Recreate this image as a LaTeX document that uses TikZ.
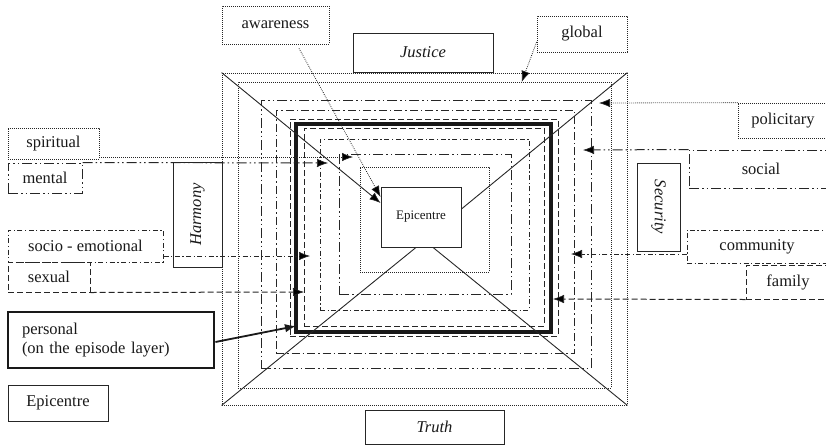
\documentclass[tikz,border=0pt]{standalone}
\usepackage{fontspec}
\setmainfont{Liberation Serif}
\usetikzlibrary{arrows.meta}

\newcommand\lblfont{\fontsize{16.5}{19}\selectfont}
\newcommand\corefont{\fontsize{13}{15}\selectfont}

\tikzset{
  dotln/.style={dash pattern=on 0.8pt off 1.2pt, line width=0.8pt},
  dashln/.style={dash pattern=on 6pt off 3pt, line width=1pt},
  dashdotln/.style={dash pattern=on 8pt off 3pt on 1.5pt off 3pt, line width=1pt},
  shortdashdotln/.style={dash pattern=on 5pt off 2.5pt on 1.3pt off 2.5pt, line width=1pt},
  dashdotdotln/.style={dash pattern=on 10pt off 3pt on 1.5pt off 3pt on 1.5pt off 3pt, line width=1pt},
  thinln/.style={line width=0.9pt},
  layer/.style={draw=black!85, inner sep=0pt},
  lbl/.style={draw=black!85, inner sep=0pt, font=\lblfont, text=black!90},
  tip/.style={-{Latex[length=11pt,width=8.5pt,fill=black,line width=0.6pt]}, draw=black!85},
}

\begin{document}
\begin{tikzpicture}[x=1pt, y=-1pt]
\useasboundingbox (0,0) rectangle (826,445);
\clip (0,0) rectangle (826,445);

% concentric layers, outermost first
\node[layer, dotln, minimum width=405pt, minimum height=332pt] (L1) at (424.5,239) {};
\node[layer, dotln, minimum width=373pt, minimum height=306pt] (L2) at (424.5,235) {};
\node[layer, dashdotdotln, minimum width=330pt, minimum height=268pt] (L3) at (426,234) {};
\node[layer, dashdotln, minimum width=298pt, minimum height=243pt] (L4) at (425,231.5) {};
\node[layer, dashln, minimum width=268pt, minimum height=217pt] (L5) at (424,227.5) {};
\node[layer, line width=3.8pt, draw=black!90, minimum width=255pt, minimum height=208pt] (L6) at (423.5,228) {};
\node[layer, dashln, minimum width=240pt, minimum height=198pt] (L7) at (424,227) {};
\node[layer, shortdashdotln, minimum width=209pt, minimum height=171pt] (L8) at (424.5,224.5) {};
\node[layer, dashdotdotln, minimum width=172pt, minimum height=140pt] (L9) at (425,224) {};
\node[layer, dotln, minimum width=129pt, minimum height=105pt] (L10) at (424.5,219.5) {};

% the core
\node[layer, thinln, fill=white, font=\corefont, text=black!90, minimum width=80pt, minimum height=60pt] (epi) at (421,217) {Epicentre};

% diagonals from the outer corners to the core
\draw[tip, thinln] (L1.north west) -- ([yshift=14pt]epi.west);
\draw[thinln, draw=black!85] (L1.north east) -- ([yshift=8pt]epi.east);
\draw[thinln, draw=black!85] (L1.south west) -- ([xshift=-5pt]epi.south);
\draw[thinln, draw=black!85] (L1.south east) -- ([xshift=12pt]epi.south);

% value boxes
\node[lbl, thinln, minimum width=140pt, minimum height=39pt] (justice) at (423,52.5) {\itshape Justice};
\node[lbl, thinln, minimum width=139pt, minimum height=34pt] (truth) at (434.5,427) {\itshape Truth};
\node[lbl, thinln, minimum width=49pt, minimum height=105pt] (harmony) at (197.5,214.5) {};
\node[font=\lblfont\itshape, text=black!90, rotate=90] at (harmony.center) {Harmony};
\node[lbl, thinln, minimum width=43pt, minimum height=88pt] (security) at (658.5,207) {};
\node[font=\lblfont\itshape, text=black!90, rotate=-90] at (security.center) {Security};

% layer labels, top
\node[lbl, dotln, minimum width=107pt, minimum height=38pt] (awareness) at (275.5,25) {awareness};
\node[lbl, dotln, minimum width=90pt, minimum height=36pt] (global) at (582,34) {global};

% layer labels, right
\node[lbl, dotln, minimum width=90pt, minimum height=35pt] (policitary) at (783,120.5) {policitary};
\node[lbl, dashdotdotln, minimum width=144pt, minimum height=38pt] (social) at (761,169) {social};
\node[lbl, shortdashdotln, minimum width=140pt, minimum height=33pt] (community) at (757,246.5) {community};
\node[lbl, dashln, minimum width=84pt, minimum height=34pt] (family) at (788,282) {family};

% layer labels, left
\node[lbl, dotln, minimum width=91pt, minimum height=31pt] (spiritual) at (53.5,143.5) {spiritual};
\node[lbl, dashdotdotln, minimum width=74pt, minimum height=30pt] (mental) at (45,178) {mental};
\node[lbl, shortdashdotln, minimum width=155pt, minimum height=32pt] (socio) at (85.5,246) {socio - emotional};
\node[lbl, dashln, minimum width=82pt, minimum height=30pt] (sexual) at (49,277) {sexual};
\node[lbl, line width=2.8pt, draw=black!90, minimum height=56pt, text width=178pt, inner xsep=14pt, align=left] (personal) at (111,340) {personal\\(on the episode layer)};
\node[lbl, thinln, minimum width=100pt, minimum height=36pt] (legend) at (58,403) {Epicentre};

% connector end points on the layers
\coordinate (tAware) at ([yshift=20pt]epi.west);
\coordinate (tGlobal) at (521.7,82);
\coordinate (tPolic) at (599,103);
\coordinate (tSocial) at (583,150);
\coordinate (tComm) at (571,254);
\coordinate (tFamily) at (553,299);
\coordinate (tSpirit) at (353,157);
\coordinate (tMental) at (328,163);
\coordinate (tSocio) at (310,256);
\coordinate (tSexual) at (304,292);
\coordinate (tPersonal) at (296,326);

% connectors
\draw[tip, dotln] ([xshift=23.5pt,yshift=-4pt]awareness.south) -- (tAware);
\draw[tip, dotln] ([yshift=-8pt]global.west) -- (tGlobal);
\draw[tip, dotln] (policitary.north west) -- (tPolic);
\draw[tip, dashdotdotln] (social.north west) -- (tSocial);
\draw[tip, shortdashdotln] ([yshift=-7.5pt]community.west) -- (tComm);
\draw[tip, dashln] (family.south west) -- (tFamily);
\draw[tip, dotln] ([yshift=-13.5pt]spiritual.east) -- (tSpirit);
\draw[tip, dashdotdotln] (mental.north east) -- (tMental);
\draw[tip, shortdashdotln] ([yshift=-10pt]socio.east) -- (tSocio);
\draw[tip, dashln] (sexual.south east) -- (tSexual);
\draw[-{Latex[length=11pt,width=8.5pt]}, line width=1.8pt, draw=black!90] ([yshift=-2pt]personal.east) -- (tPersonal);
\end{tikzpicture}
\end{document}
